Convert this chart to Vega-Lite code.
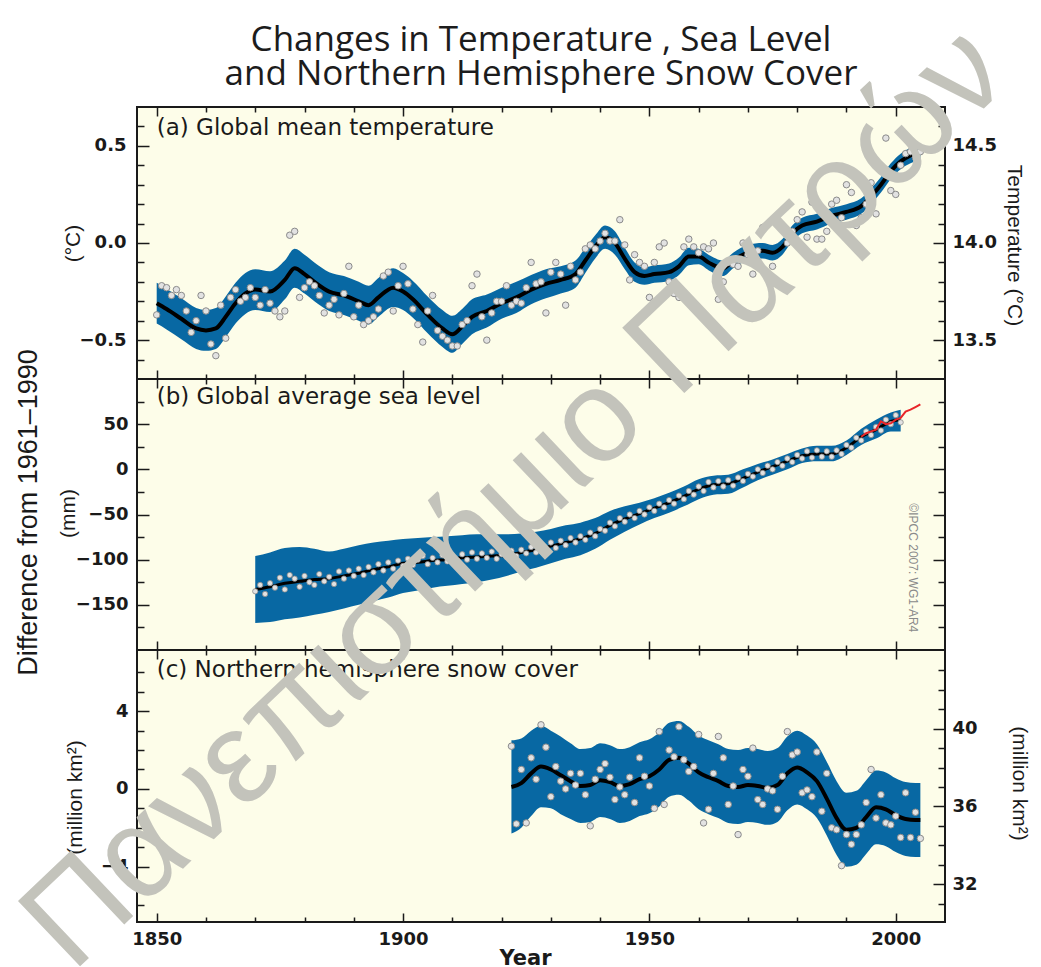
{
  "$schema": "https://vega.github.io/schema/vega-lite/v6.json",
  "width": 808,
  "height": 815,
  "autosize": {"type": "none"},
  "padding": {"left": 137, "top": 107, "right": 96, "bottom": 45},
  "background": "white",
  "title": {
    "text": ["Changes in Temperature , Sea Level", "and Northern Hemisphere Snow Cover"],
    "font": "Open Sans", "fontSize": 35, "fontWeight": 500, "color": "#1c1c1c",
    "anchor": "middle", "lineHeight": 34, "offset": -87, "frame": "group"
  },
  "datasets": {
    "temp_pts": [
      {"year":1850,"v":-0.37},{"year":1851,"v":-0.22},{"year":1852,"v":-0.23},{"year":1853,"v":-0.27},{"year":1854,"v":-0.24},{"year":1855,"v":-0.27},{"year":1856,"v":-0.35},{"year":1857,"v":-0.46},{"year":1858,"v":-0.40},{"year":1859,"v":-0.27},
      {"year":1860,"v":-0.35},{"year":1861,"v":-0.52},{"year":1862,"v":-0.58},{"year":1863,"v":-0.32},{"year":1864,"v":-0.49},{"year":1865,"v":-0.28},{"year":1866,"v":-0.24},{"year":1867,"v":-0.30},{"year":1868,"v":-0.28},{"year":1869,"v":-0.23},
      {"year":1870,"v":-0.28},{"year":1871,"v":-0.32},{"year":1872,"v":-0.24},{"year":1873,"v":-0.31},{"year":1874,"v":-0.35},{"year":1875,"v":-0.38},{"year":1876,"v":-0.35},{"year":1877,"v":0.04},{"year":1878,"v":0.06},{"year":1879,"v":-0.28},
      {"year":1880,"v":-0.23},{"year":1881,"v":-0.20},{"year":1882,"v":-0.22},{"year":1883,"v":-0.27},{"year":1884,"v":-0.36},{"year":1885,"v":-0.32},{"year":1886,"v":-0.29},{"year":1887,"v":-0.37},{"year":1888,"v":-0.26},{"year":1889,"v":-0.12},
      {"year":1890,"v":-0.38},{"year":1891,"v":-0.32},{"year":1892,"v":-0.42},{"year":1893,"v":-0.40},{"year":1894,"v":-0.38},{"year":1895,"v":-0.34},{"year":1896,"v":-0.17},{"year":1897,"v":-0.15},{"year":1898,"v":-0.35},{"year":1899,"v":-0.22},
      {"year":1900,"v":-0.12},{"year":1901,"v":-0.21},{"year":1902,"v":-0.34},{"year":1903,"v":-0.42},{"year":1904,"v":-0.51},{"year":1905,"v":-0.35},{"year":1906,"v":-0.27},{"year":1907,"v":-0.45},{"year":1908,"v":-0.48},{"year":1909,"v":-0.50},
      {"year":1910,"v":-0.53},{"year":1911,"v":-0.53},{"year":1912,"v":-0.42},{"year":1913,"v":-0.40},{"year":1914,"v":-0.22},{"year":1915,"v":-0.16},{"year":1916,"v":-0.38},{"year":1917,"v":-0.50},{"year":1918,"v":-0.36},{"year":1919,"v":-0.30},
      {"year":1920,"v":-0.30},{"year":1921,"v":-0.22},{"year":1922,"v":-0.32},{"year":1923,"v":-0.30},{"year":1924,"v":-0.31},{"year":1925,"v":-0.23},{"year":1926,"v":-0.10},{"year":1927,"v":-0.21},{"year":1928,"v":-0.20},{"year":1929,"v":-0.36},
      {"year":1930,"v":-0.15},{"year":1931,"v":-0.10},{"year":1932,"v":-0.16},{"year":1933,"v":-0.32},{"year":1934,"v":-0.12},{"year":1935,"v":-0.19},{"year":1936,"v":-0.15},{"year":1937,"v":-0.03},{"year":1938,"v":-0.01},{"year":1939,"v":-0.03},
      {"year":1940,"v":0.01},{"year":1941,"v":0.05},{"year":1942,"v":0.01},{"year":1943,"v":0.01},{"year":1944,"v":0.12},{"year":1945,"v":-0.01},{"year":1946,"v":-0.19},{"year":1947,"v":-0.06},{"year":1948,"v":-0.10},{"year":1949,"v":-0.12},
      {"year":1950,"v":-0.28},{"year":1951,"v":-0.10},{"year":1952,"v":-0.02},{"year":1953,"v":0.00},{"year":1954,"v":-0.20},{"year":1955,"v":-0.26},{"year":1956,"v":-0.28},{"year":1957,"v":-0.02},{"year":1958,"v":0.02},{"year":1959,"v":-0.02},
      {"year":1960,"v":-0.05},{"year":1961,"v":-0.02},{"year":1962,"v":-0.03},{"year":1963,"v":0.00},{"year":1964,"v":-0.29},{"year":1965,"v":-0.20},{"year":1966,"v":-0.10},{"year":1967,"v":-0.11},{"year":1968,"v":-0.12},{"year":1969,"v":0.00},
      {"year":1970,"v":-0.06},{"year":1971,"v":-0.16},{"year":1972,"v":-0.04},{"year":1973,"v":0.08},{"year":1974,"v":-0.16},{"year":1975,"v":-0.12},{"year":1976,"v":-0.20},{"year":1977,"v":0.09},{"year":1978,"v":0.00},{"year":1979,"v":0.06},
      {"year":1980,"v":0.12},{"year":1981,"v":0.16},{"year":1982,"v":0.03},{"year":1983,"v":0.21},{"year":1984,"v":0.02},{"year":1985,"v":0.02},{"year":1986,"v":0.06},{"year":1987,"v":0.20},{"year":1988,"v":0.22},{"year":1989,"v":0.13},
      {"year":1990,"v":0.30},{"year":1991,"v":0.26},{"year":1992,"v":0.09},{"year":1993,"v":0.13},{"year":1994,"v":0.20},{"year":1995,"v":0.31},{"year":1996,"v":0.15},{"year":1997,"v":0.38},{"year":1998,"v":0.54},{"year":1999,"v":0.27},
      {"year":2000,"v":0.25},{"year":2001,"v":0.40},{"year":2002,"v":0.46},{"year":2003,"v":0.47},{"year":2004,"v":0.44},{"year":2005,"v":0.47}
    ],
    "temp_smooth": [
      {"year":1850,"m":-0.31,"lo":-0.415,"hi":-0.205},{"year":1852,"m":-0.34,"lo":-0.445,"hi":-0.235},{"year":1855,"m":-0.39,"lo":-0.495,"hi":-0.285},{"year":1858,"m":-0.44,"lo":-0.545,"hi":-0.335},
      {"year":1860,"m":-0.45,"lo":-0.555,"hi":-0.345},{"year":1862,"m":-0.44,"lo":-0.545,"hi":-0.335},{"year":1864,"m":-0.38,"lo":-0.485,"hi":-0.275},{"year":1866,"m":-0.31,"lo":-0.415,"hi":-0.205},
      {"year":1868,"m":-0.26,"lo":-0.365,"hi":-0.155},{"year":1870,"m":-0.24,"lo":-0.345,"hi":-0.135},{"year":1873,"m":-0.25,"lo":-0.355,"hi":-0.145},{"year":1876,"m":-0.19,"lo":-0.29,"hi":-0.09},
      {"year":1878,"m":-0.13,"lo":-0.23,"hi":-0.03},{"year":1880,"m":-0.16,"lo":-0.26,"hi":-0.06},{"year":1882,"m":-0.20,"lo":-0.30,"hi":-0.10},{"year":1885,"m":-0.25,"lo":-0.35,"hi":-0.15},
      {"year":1888,"m":-0.27,"lo":-0.37,"hi":-0.17},{"year":1891,"m":-0.30,"lo":-0.40,"hi":-0.20},{"year":1893,"m":-0.32,"lo":-0.42,"hi":-0.22},{"year":1895,"m":-0.28,"lo":-0.38,"hi":-0.18},
      {"year":1898,"m":-0.23,"lo":-0.33,"hi":-0.13},{"year":1900,"m":-0.25,"lo":-0.345,"hi":-0.155},{"year":1902,"m":-0.29,"lo":-0.385,"hi":-0.195},{"year":1905,"m":-0.37,"lo":-0.465,"hi":-0.275},
      {"year":1908,"m":-0.44,"lo":-0.535,"hi":-0.345},{"year":1910,"m":-0.47,"lo":-0.565,"hi":-0.375},{"year":1912,"m":-0.43,"lo":-0.52,"hi":-0.34},{"year":1914,"m":-0.38,"lo":-0.47,"hi":-0.29},
      {"year":1917,"m":-0.35,"lo":-0.435,"hi":-0.265},{"year":1920,"m":-0.31,"lo":-0.39,"hi":-0.23},{"year":1923,"m":-0.28,"lo":-0.36,"hi":-0.20},{"year":1926,"m":-0.24,"lo":-0.315,"hi":-0.165},
      {"year":1929,"m":-0.21,"lo":-0.285,"hi":-0.135},{"year":1932,"m":-0.19,"lo":-0.26,"hi":-0.12},{"year":1935,"m":-0.16,"lo":-0.23,"hi":-0.09},{"year":1937,"m":-0.09,"lo":-0.155,"hi":-0.025},
      {"year":1939,"m":-0.02,"lo":-0.08,"hi":0.04},{"year":1941,"m":0.03,"lo":-0.03,"hi":0.09},{"year":1943,"m":0.00,"lo":-0.06,"hi":0.06},{"year":1945,"m":-0.08,"lo":-0.135,"hi":-0.025},
      {"year":1947,"m":-0.15,"lo":-0.20,"hi":-0.10},{"year":1949,"m":-0.17,"lo":-0.215,"hi":-0.125},{"year":1951,"m":-0.16,"lo":-0.205,"hi":-0.115},{"year":1954,"m":-0.15,"lo":-0.195,"hi":-0.105},
      {"year":1956,"m":-0.12,"lo":-0.165,"hi":-0.075},{"year":1958,"m":-0.07,"lo":-0.115,"hi":-0.025},{"year":1960,"m":-0.07,"lo":-0.11,"hi":-0.03},{"year":1962,"m":-0.10,"lo":-0.14,"hi":-0.06},
      {"year":1965,"m":-0.13,"lo":-0.17,"hi":-0.09},{"year":1967,"m":-0.09,"lo":-0.13,"hi":-0.05},{"year":1970,"m":-0.05,"lo":-0.09,"hi":-0.01},{"year":1973,"m":-0.04,"lo":-0.08,"hi":0.00},
      {"year":1975,"m":-0.05,"lo":-0.09,"hi":-0.01},{"year":1977,"m":-0.02,"lo":-0.06,"hi":0.02},{"year":1979,"m":0.05,"lo":0.01,"hi":0.09},{"year":1981,"m":0.09,"lo":0.05,"hi":0.13},
      {"year":1984,"m":0.11,"lo":0.07,"hi":0.15},{"year":1987,"m":0.14,"lo":0.10,"hi":0.18},{"year":1990,"m":0.16,"lo":0.12,"hi":0.20},{"year":1993,"m":0.19,"lo":0.15,"hi":0.23},
      {"year":1995,"m":0.24,"lo":0.20,"hi":0.28},{"year":1997,"m":0.30,"lo":0.26,"hi":0.34},{"year":1999,"m":0.37,"lo":0.33,"hi":0.41},{"year":2001,"m":0.42,"lo":0.38,"hi":0.46},
      {"year":2003,"m":0.45,"lo":0.41,"hi":0.49},{"year":2005,"m":0.47,"lo":0.43,"hi":0.51}
    ],
    "sea_pts": [
      {"year":1870,"v":-135},{"year":1871,"v":-128},{"year":1872,"v":-138},{"year":1873,"v":-126},{"year":1874,"v":-131},{"year":1875,"v":-120},{"year":1876,"v":-133},{"year":1877,"v":-117},{"year":1878,"v":-121},{"year":1879,"v":-130},
      {"year":1880,"v":-118},{"year":1881,"v":-125},{"year":1882,"v":-128},{"year":1883,"v":-116},{"year":1884,"v":-124},{"year":1885,"v":-119},{"year":1886,"v":-127},{"year":1887,"v":-113},{"year":1888,"v":-121},{"year":1889,"v":-112},
      {"year":1890,"v":-118},{"year":1891,"v":-110},{"year":1892,"v":-117},{"year":1893,"v":-108},{"year":1894,"v":-114},{"year":1895,"v":-105},{"year":1896,"v":-112},{"year":1897,"v":-103},{"year":1898,"v":-110},{"year":1899,"v":-101},
      {"year":1900,"v":-107},{"year":1901,"v":-99},{"year":1902,"v":-106},{"year":1903,"v":-100},{"year":1904,"v":-96},{"year":1905,"v":-105},{"year":1906,"v":-98},{"year":1907,"v":-103},{"year":1908,"v":-95},{"year":1909,"v":-102},
      {"year":1910,"v":-96},{"year":1911,"v":-101},{"year":1912,"v":-94},{"year":1913,"v":-100},{"year":1914,"v":-92},{"year":1915,"v":-99},{"year":1916,"v":-93},{"year":1917,"v":-98},{"year":1918,"v":-91},{"year":1919,"v":-99},
      {"year":1920,"v":-94},{"year":1921,"v":-97},{"year":1922,"v":-90},{"year":1923,"v":-96},{"year":1924,"v":-89},{"year":1925,"v":-93},{"year":1926,"v":-86},{"year":1927,"v":-92},{"year":1928,"v":-85},{"year":1929,"v":-89},
      {"year":1930,"v":-81},{"year":1931,"v":-87},{"year":1932,"v":-79},{"year":1933,"v":-84},{"year":1934,"v":-76},{"year":1935,"v":-81},{"year":1936,"v":-74},{"year":1937,"v":-78},{"year":1938,"v":-70},{"year":1939,"v":-74},
      {"year":1940,"v":-66},{"year":1941,"v":-68},{"year":1942,"v":-59},{"year":1943,"v":-63},{"year":1944,"v":-54},{"year":1945,"v":-58},{"year":1946,"v":-50},{"year":1947,"v":-54},{"year":1948,"v":-46},{"year":1949,"v":-50},
      {"year":1950,"v":-42},{"year":1951,"v":-46},{"year":1952,"v":-38},{"year":1953,"v":-42},{"year":1954,"v":-34},{"year":1955,"v":-38},{"year":1956,"v":-29},{"year":1957,"v":-33},{"year":1958,"v":-24},{"year":1959,"v":-28},
      {"year":1960,"v":-19},{"year":1961,"v":-24},{"year":1962,"v":-14},{"year":1963,"v":-20},{"year":1964,"v":-13},{"year":1965,"v":-19},{"year":1966,"v":-12},{"year":1967,"v":-18},{"year":1968,"v":-9},{"year":1969,"v":-13},
      {"year":1970,"v":-5},{"year":1971,"v":-8},{"year":1972,"v":0},{"year":1973,"v":-4},{"year":1974,"v":4},{"year":1975,"v":0},{"year":1976,"v":8},{"year":1977,"v":4},{"year":1978,"v":12},{"year":1979,"v":8},
      {"year":1980,"v":16},{"year":1981,"v":12},{"year":1982,"v":20},{"year":1983,"v":13},{"year":1984,"v":21},{"year":1985,"v":14},{"year":1986,"v":20},{"year":1987,"v":14},{"year":1988,"v":21},{"year":1989,"v":17},
      {"year":1990,"v":27},{"year":1991,"v":24},{"year":1992,"v":35},{"year":1993,"v":32},{"year":1994,"v":42},{"year":1995,"v":38},{"year":1996,"v":47},{"year":1997,"v":43},{"year":1998,"v":55},{"year":1999,"v":50},
      {"year":2000,"v":60},{"year":2001,"v":52}
    ],
    "sea_smooth": [
      {"year":1870,"m":-133,"lo":-170,"hi":-96},{"year":1873,"m":-130,"lo":-169,"hi":-92},{"year":1876,"m":-126,"lo":-166,"hi":-87},{"year":1879,"m":-124,"lo":-164,"hi":-86},
      {"year":1882,"m":-122,"lo":-161,"hi":-88},{"year":1885,"m":-121,"lo":-158,"hi":-91},{"year":1888,"m":-118,"lo":-154,"hi":-88},{"year":1891,"m":-115,"lo":-150,"hi":-84},
      {"year":1894,"m":-111,"lo":-146,"hi":-81},{"year":1897,"m":-108,"lo":-142,"hi":-79},{"year":1900,"m":-104,"lo":-137,"hi":-77},{"year":1903,"m":-103,"lo":-134,"hi":-76},
      {"year":1906,"m":-101,"lo":-131,"hi":-75},{"year":1909,"m":-100,"lo":-129,"hi":-74},{"year":1912,"m":-98,"lo":-127,"hi":-73},{"year":1915,"m":-97,"lo":-125,"hi":-72},
      {"year":1918,"m":-96,"lo":-122,"hi":-72},{"year":1921,"m":-95,"lo":-118,"hi":-72},{"year":1924,"m":-92,"lo":-113,"hi":-71},{"year":1927,"m":-89,"lo":-109,"hi":-69},
      {"year":1930,"m":-85,"lo":-104,"hi":-66},{"year":1933,"m":-81,"lo":-99,"hi":-62},{"year":1936,"m":-77,"lo":-95,"hi":-59},{"year":1939,"m":-71,"lo":-88,"hi":-54},
      {"year":1942,"m":-62,"lo":-78,"hi":-46},{"year":1945,"m":-55,"lo":-69,"hi":-41},{"year":1948,"m":-49,"lo":-61,"hi":-37},{"year":1951,"m":-43,"lo":-54,"hi":-32},
      {"year":1954,"m":-37,"lo":-48,"hi":-26},{"year":1957,"m":-30,"lo":-41,"hi":-19},{"year":1960,"m":-22,"lo":-33,"hi":-11},{"year":1963,"m":-17,"lo":-28,"hi":-7},
      {"year":1966,"m":-16,"lo":-27,"hi":-6},{"year":1969,"m":-10,"lo":-20,"hi":0},{"year":1972,"m":-3,"lo":-12,"hi":6},{"year":1975,"m":3,"lo":-6,"hi":11},
      {"year":1978,"m":9,"lo":0,"hi":17},{"year":1981,"m":15,"lo":7,"hi":23},{"year":1984,"m":17,"lo":9,"hi":26},{"year":1987,"m":17,"lo":9,"hi":26},
      {"year":1990,"m":24,"lo":16,"hi":32},{"year":1993,"m":36,"lo":27,"hi":45},{"year":1996,"m":44,"lo":34,"hi":55},{"year":1999,"m":53,"lo":42,"hi":63},
      {"year":2001,"m":55,"lo":42,"hi":66}
    ],
    "sea_sat": [
      {"year":1993,"v":36},{"year":1994,"v":40},{"year":1995,"v":42},{"year":1996,"v":44},{"year":1997,"v":53},{"year":1998,"v":50},{"year":1999,"v":51},
      {"year":2000,"v":55},{"year":2001,"v":57},{"year":2002,"v":64},{"year":2003,"v":66},{"year":2004,"v":69},{"year":2005,"v":72}
    ],
    "snow_pts": [
      {"year":1922,"v":2.2},{"year":1923,"v":-1.8},{"year":1924,"v":1.0},{"year":1925,"v":-1.75},{"year":1926,"v":1.6},{"year":1927,"v":0.5},{"year":1928,"v":3.3},{"year":1929,"v":2.15},
      {"year":1930,"v":-0.4},{"year":1931,"v":1.15},{"year":1932,"v":0.4},{"year":1933,"v":0.0},{"year":1934,"v":0.8},{"year":1935,"v":0.2},{"year":1936,"v":0.8},{"year":1937,"v":-0.3},{"year":1938,"v":-1.9},{"year":1939,"v":0.5},
      {"year":1940,"v":1.0},{"year":1941,"v":1.3},{"year":1942,"v":0.6},{"year":1943,"v":-0.55},{"year":1944,"v":0.1},{"year":1945,"v":-0.3},{"year":1946,"v":0.6},{"year":1947,"v":-0.7},{"year":1948,"v":1.6},{"year":1949,"v":0.65},
      {"year":1950,"v":0.15},{"year":1951,"v":-1.0},{"year":1952,"v":2.95},{"year":1953,"v":-0.8},{"year":1954,"v":2.0},{"year":1955,"v":1.65},{"year":1956,"v":3.2},{"year":1957,"v":1.5},{"year":1958,"v":0.9},{"year":1959,"v":1.15},
      {"year":1960,"v":2.8},{"year":1961,"v":-1.75},{"year":1962,"v":-1.05},{"year":1963,"v":0.8},{"year":1964,"v":2.7},{"year":1965,"v":1.6},{"year":1966,"v":-0.8},{"year":1967,"v":0.15},{"year":1968,"v":-2.35},{"year":1969,"v":1.0},
      {"year":1970,"v":0.65},{"year":1971,"v":2.1},{"year":1972,"v":-0.55},{"year":1973,"v":-0.8},{"year":1974,"v":0.0},{"year":1975,"v":-0.1},{"year":1976,"v":-1.05},{"year":1977,"v":0.65},{"year":1978,"v":2.95},{"year":1979,"v":1.75},
      {"year":1980,"v":1.9},{"year":1981,"v":-0.2},{"year":1982,"v":-0.05},{"year":1983,"v":-0.4},{"year":1984,"v":1.9},{"year":1985,"v":-1.15},{"year":1986,"v":0.8},{"year":1987,"v":-2.0},{"year":1988,"v":-2.1},{"year":1989,"v":-3.95},
      {"year":1990,"v":-2.35},{"year":1991,"v":-2.85},{"year":1992,"v":-2.35},{"year":1993,"v":-1.85},{"year":1994,"v":-0.7},{"year":1995,"v":1.0},{"year":1996,"v":-1.5},{"year":1997,"v":-0.3},{"year":1998,"v":-1.75},{"year":1999,"v":-1.85},
      {"year":2000,"v":-1.4},{"year":2001,"v":-2.5},{"year":2002,"v":-0.2},{"year":2003,"v":-2.5},{"year":2004,"v":-1.2},{"year":2005,"v":-2.55}
    ],
    "snow_smooth": [
      {"year":1922,"m":0.1,"lo":-2.3,"hi":2.5},{"year":1924,"m":0.3,"lo":-2.0,"hi":2.6},{"year":1926,"m":0.8,"lo":-1.4,"hi":3.0},{"year":1928,"m":1.15,"lo":-0.95,"hi":3.25},
      {"year":1930,"m":1.0,"lo":-1.0,"hi":3.0},{"year":1932,"m":0.7,"lo":-1.3,"hi":2.7},{"year":1934,"m":0.4,"lo":-1.55,"hi":2.35},{"year":1936,"m":0.15,"lo":-1.75,"hi":2.05},
      {"year":1938,"m":0.2,"lo":-1.7,"hi":2.1},{"year":1940,"m":0.45,"lo":-1.45,"hi":2.35},{"year":1942,"m":0.35,"lo":-1.55,"hi":2.25},{"year":1944,"m":0.15,"lo":-1.75,"hi":2.05},
      {"year":1946,"m":0.25,"lo":-1.65,"hi":2.15},{"year":1948,"m":0.5,"lo":-1.4,"hi":2.4},{"year":1950,"m":0.65,"lo":-1.25,"hi":2.55},{"year":1952,"m":1.0,"lo":-0.9,"hi":2.9},
      {"year":1954,"m":1.5,"lo":-0.4,"hi":3.4},{"year":1956,"m":1.6,"lo":-0.3,"hi":3.5},{"year":1958,"m":1.3,"lo":-0.6,"hi":3.2},{"year":1960,"m":0.85,"lo":-1.05,"hi":2.75},
      {"year":1962,"m":0.6,"lo":-1.3,"hi":2.5},{"year":1964,"m":0.4,"lo":-1.5,"hi":2.3},{"year":1966,"m":0.15,"lo":-1.75,"hi":2.05},{"year":1968,"m":0.1,"lo":-1.8,"hi":2.0},
      {"year":1970,"m":0.2,"lo":-1.7,"hi":2.1},{"year":1972,"m":0.15,"lo":-1.75,"hi":2.05},{"year":1974,"m":0.05,"lo":-1.85,"hi":1.95},{"year":1976,"m":0.2,"lo":-1.7,"hi":2.1},
      {"year":1978,"m":0.8,"lo":-1.1,"hi":2.7},{"year":1980,"m":1.1,"lo":-0.8,"hi":3.0},{"year":1982,"m":0.85,"lo":-1.05,"hi":2.75},{"year":1984,"m":0.4,"lo":-1.5,"hi":2.3},
      {"year":1986,"m":-0.5,"lo":-2.4,"hi":1.4},{"year":1988,"m":-1.5,"lo":-3.4,"hi":0.4},{"year":1990,"m":-2.1,"lo":-4.0,"hi":-0.2},{"year":1992,"m":-2.0,"lo":-3.9,"hi":-0.1},
      {"year":1994,"m":-1.45,"lo":-3.35,"hi":0.45},{"year":1996,"m":-0.95,"lo":-2.85,"hi":0.95},{"year":1998,"m":-1.05,"lo":-2.95,"hi":0.85},{"year":2000,"m":-1.35,"lo":-3.25,"hi":0.55},
      {"year":2002,"m":-1.55,"lo":-3.45,"hi":0.35},{"year":2004,"m":-1.6,"lo":-3.5,"hi":0.3},{"year":2005,"m":-1.6,"lo":-3.5,"hi":0.3}
    ],
    "one": [{}]
  },
  "layer": [
    {
      "data": {"name": "temp_smooth"},
      "mark": {"type": "area", "color": "#0868a3", "interpolate": "monotone"},
      "encoding": {
        "x": {"field": "year", "type": "quantitative", "scale": {"domain": [1846, 2010], "nice": false, "zero": false}, "axis": null},
        "y": {"field": "lo", "type": "quantitative", "scale": {"domain": [-3.495, 0.7], "nice": false, "zero": false}, "axis": null},
        "y2": {"field": "hi"}
      }
    },
    {
      "data": {"name": "temp_smooth"},
      "mark": {"type": "line", "color": "#000000", "strokeWidth": 4, "interpolate": "monotone"},
      "encoding": {
        "x": {"field": "year", "type": "quantitative", "scale": {"domain": [1846, 2010], "nice": false, "zero": false}, "axis": null},
        "y": {"field": "m", "type": "quantitative", "scale": {"domain": [-3.495, 0.7], "nice": false, "zero": false}, "axis": null}
      }
    },
    {
      "data": {"name": "temp_pts"},
      "mark": {"type": "point", "filled": true, "fill": "#e2e2e2", "stroke": "#8a8a8a", "strokeWidth": 1, "size": 42, "opacity": 1},
      "encoding": {
        "x": {"field": "year", "type": "quantitative", "scale": {"domain": [1846, 2010], "nice": false, "zero": false}, "axis": null},
        "y": {"field": "v", "type": "quantitative", "scale": {"domain": [-3.495, 0.7], "nice": false, "zero": false}, "axis": null}
      }
    },
    {
      "data": {"name": "one"},
      "mark": {"type": "text", "text": "(a) Global mean temperature", "font": "DejaVu Sans", "fontSize": 23, "color": "#1a1a1a", "align": "left", "baseline": "alphabetic"},
      "encoding": {
        "x": {"datum": 1850, "type": "quantitative", "scale": {"domain": [1846, 2010], "nice": false, "zero": false}, "axis": null},
        "y": {"datum": 0.556, "type": "quantitative", "scale": {"domain": [-3.495, 0.7], "nice": false, "zero": false}, "axis": null}
      }
    },
    {
      "data": {"name": "one"},
      "mark": {"type": "rule", "color": "#1a1a1a", "strokeWidth": 2},
      "encoding": {
        "y": {"datum": -0.7, "type": "quantitative", "scale": {"domain": [-3.495, 0.7], "nice": false, "zero": false}, "axis": null}
      }
    },
    {
      "data": {"name": "sea_smooth"},
      "mark": {"type": "area", "color": "#0868a3", "interpolate": "monotone"},
      "encoding": {
        "x": {"field": "year", "type": "quantitative", "scale": {"domain": [1846, 2010], "nice": false, "zero": false}, "axis": null},
        "y": {"field": "lo", "type": "quantitative", "scale": {"domain": [-501.1, 401.1], "nice": false, "zero": false}, "axis": null},
        "y2": {"field": "hi"}
      }
    },
    {
      "data": {"name": "sea_smooth"},
      "mark": {"type": "line", "color": "#000000", "strokeWidth": 3, "interpolate": "monotone"},
      "encoding": {
        "x": {"field": "year", "type": "quantitative", "scale": {"domain": [1846, 2010], "nice": false, "zero": false}, "axis": null},
        "y": {"field": "m", "type": "quantitative", "scale": {"domain": [-501.1, 401.1], "nice": false, "zero": false}, "axis": null}
      }
    },
    {
      "data": {"name": "sea_pts"},
      "mark": {"type": "point", "filled": true, "fill": "#e2e2e2", "stroke": "#8a8a8a", "strokeWidth": 0.8, "size": 28, "opacity": 1},
      "encoding": {
        "x": {"field": "year", "type": "quantitative", "scale": {"domain": [1846, 2010], "nice": false, "zero": false}, "axis": null},
        "y": {"field": "v", "type": "quantitative", "scale": {"domain": [-501.1, 401.1], "nice": false, "zero": false}, "axis": null}
      }
    },
    {
      "data": {"name": "sea_sat"},
      "mark": {"type": "line", "color": "#e8262a", "strokeWidth": 2},
      "encoding": {
        "x": {"field": "year", "type": "quantitative", "scale": {"domain": [1846, 2010], "nice": false, "zero": false}, "axis": null},
        "y": {"field": "v", "type": "quantitative", "scale": {"domain": [-501.1, 401.1], "nice": false, "zero": false}, "axis": null}
      }
    },
    {
      "data": {"name": "one"},
      "mark": {"type": "text", "text": "(b) Global average sea level", "font": "DejaVu Sans", "fontSize": 23, "color": "#1a1a1a", "align": "left", "baseline": "alphabetic"},
      "encoding": {
        "x": {"datum": 1850, "type": "quantitative", "scale": {"domain": [1846, 2010], "nice": false, "zero": false}, "axis": null},
        "y": {"datum": 72.3, "type": "quantitative", "scale": {"domain": [-501.1, 401.1], "nice": false, "zero": false}, "axis": null}
      }
    },
    {
      "data": {"name": "one"},
      "mark": {"type": "text", "text": "©IPCC 2007: WG1-AR4", "font": "Liberation Sans", "fontSize": 12, "color": "#8a8a8a", "align": "center", "baseline": "middle", "angle": 90},
      "encoding": {
        "x": {"datum": 2003.6, "type": "quantitative", "scale": {"domain": [1846, 2010], "nice": false, "zero": false}, "axis": null},
        "y": {"datum": -109, "type": "quantitative", "scale": {"domain": [-501.1, 401.1], "nice": false, "zero": false}, "axis": null}
      }
    },
    {
      "data": {"name": "one"},
      "mark": {"type": "rule", "color": "#1a1a1a", "strokeWidth": 2},
      "encoding": {
        "y": {"datum": -200, "type": "quantitative", "scale": {"domain": [-501.1, 401.1], "nice": false, "zero": false}, "axis": null}
      }
    },
    {
      "data": {"name": "snow_smooth"},
      "mark": {"type": "area", "color": "#0868a3", "interpolate": "monotone"},
      "encoding": {
        "x": {"field": "year", "type": "quantitative", "scale": {"domain": [1846, 2010], "nice": false, "zero": false}, "axis": null},
        "y": {"field": "lo", "type": "quantitative", "scale": {"domain": [-6.85, 35.098], "nice": false, "zero": false}, "axis": null},
        "y2": {"field": "hi"}
      }
    },
    {
      "data": {"name": "snow_smooth"},
      "mark": {"type": "line", "color": "#000000", "strokeWidth": 4, "interpolate": "monotone"},
      "encoding": {
        "x": {"field": "year", "type": "quantitative", "scale": {"domain": [1846, 2010], "nice": false, "zero": false}, "axis": null},
        "y": {"field": "m", "type": "quantitative", "scale": {"domain": [-6.85, 35.098], "nice": false, "zero": false}, "axis": null}
      }
    },
    {
      "data": {"name": "snow_pts"},
      "mark": {"type": "point", "filled": true, "fill": "#e2e2e2", "stroke": "#8a8a8a", "strokeWidth": 1, "size": 42, "opacity": 1},
      "encoding": {
        "x": {"field": "year", "type": "quantitative", "scale": {"domain": [1846, 2010], "nice": false, "zero": false}, "axis": null},
        "y": {"field": "v", "type": "quantitative", "scale": {"domain": [-6.85, 35.098], "nice": false, "zero": false}, "axis": null}
      }
    },
    {
      "data": {"name": "one"},
      "mark": {"type": "text", "text": "(c) Northern hemisphere snow cover", "font": "DejaVu Sans", "fontSize": 23, "color": "#1a1a1a", "align": "left", "baseline": "alphabetic"},
      "encoding": {
        "x": {"datum": 1850, "type": "quantitative", "scale": {"domain": [1846, 2010], "nice": false, "zero": false}, "axis": null},
        "y": {"datum": 5.76, "type": "quantitative", "scale": {"domain": [-6.85, 35.098], "nice": false, "zero": false}, "axis": null}
      }
    },
    {
      "data": {"name": "one"},
      "mark": {"type": "point", "opacity": 0},
      "encoding": {
        "x": {"datum": 1900, "type": "quantitative", "scale": {"domain": [1846, 2010], "nice": false, "zero": false},
              "axis": {"orient": "bottom", "values": [1850, 1900, 1950, 2000], "format": "d", "offset": -9, "tickSize": 9, "labelPadding": 8, "labelFlush": false,
                       "title": "Year", "titleX": 388, "titleY": 34, "titleAlign": "center", "titleBaseline": "top", "titleAngle": 0,
                       "titleFont": "DejaVu Sans", "titleFontSize": 21, "titleFontWeight": "bold"}},
        "y": {"datum": 0, "type": "quantitative", "scale": {"domain": [-3.495, 0.7], "nice": false, "zero": false},
              "axis": {"orient": "left", "values": [-0.5, 0, 0.5], "format": ".1f", "offset": -12, "tickSize": 12, "labelPadding": 11,
                       "title": "(°C)", "titleX": -66, "titleY": 136, "titleAngle": -90, "titleAlign": "center", "titleBaseline": "bottom"}}
      }
    },
    {
      "data": {"name": "one"},
      "mark": {"type": "point", "opacity": 0},
      "encoding": {
        "x": {"datum": 1900, "type": "quantitative", "scale": {"domain": [1846, 2010], "nice": false, "zero": false},
              "axis": {"orient": "bottom", "values": [1860,1870,1880,1890,1910,1920,1930,1940,1960,1970,1980,1990], "labels": false, "offset": -5, "tickSize": 5, "title": null}},
        "y": {"datum": 0, "type": "quantitative", "scale": {"domain": [-3.495, 0.7], "nice": false, "zero": false},
              "axis": {"orient": "left", "values": [-0.6,-0.4,-0.3,-0.2,-0.1,0.1,0.2,0.3,0.4,0.6], "labels": false, "offset": -7, "tickSize": 7, "title": null}}
      }
    },
    {
      "data": {"name": "one"},
      "mark": {"type": "point", "opacity": 0},
      "encoding": {
        "x": {"datum": 1900, "type": "quantitative", "scale": {"domain": [1846, 2010], "nice": false, "zero": false},
              "axis": {"orient": "top", "values": [1850, 1900, 1950, 2000], "labels": false, "offset": -9, "tickSize": 9, "title": null}},
        "y": {"datum": 14, "type": "quantitative", "scale": {"domain": [10.505, 14.7], "nice": false, "zero": false},
              "axis": {"orient": "right", "values": [13.5, 14, 14.5], "format": ".1f", "offset": -12, "tickSize": 12, "labelPadding": 7,
                       "title": "Temperature (°C)", "titleX": 70, "titleY": 138, "titleAngle": 90, "titleAlign": "center", "titleBaseline": "bottom"}}
      }
    },
    {
      "data": {"name": "one"},
      "mark": {"type": "point", "opacity": 0},
      "encoding": {
        "x": {"datum": 1900, "type": "quantitative", "scale": {"domain": [1846, 2010], "nice": false, "zero": false},
              "axis": {"orient": "top", "values": [1860,1870,1880,1890,1910,1920,1930,1940,1960,1970,1980,1990], "labels": false, "offset": -5, "tickSize": 5, "title": null}},
        "y": {"datum": 14, "type": "quantitative", "scale": {"domain": [10.505, 14.7], "nice": false, "zero": false},
              "axis": {"orient": "right", "values": [13.4,13.6,13.7,13.8,13.9,14.1,14.2,14.3,14.4,14.6], "labels": false, "offset": -7, "tickSize": 7, "title": null}}
      }
    },
    {
      "data": {"name": "one"},
      "mark": {"type": "point", "opacity": 0},
      "encoding": {
        "x": {"datum": 1900, "type": "quantitative", "scale": {"domain": [1846, 2010], "nice": false, "zero": false},
              "axis": {"orient": "top", "values": [1850, 1900, 1950, 2000], "labels": false, "offset": -272, "tickSize": 9, "title": null}},
        "y": {"datum": 0, "type": "quantitative", "scale": {"domain": [-501.1, 401.1], "nice": false, "zero": false},
              "axis": {"orient": "left", "values": [-150, -100, -50, 0, 50], "format": "d", "offset": -12, "tickSize": 12, "labelPadding": 9,
                       "title": "(mm)", "titleX": -71, "titleY": 406, "titleAngle": -90, "titleAlign": "center", "titleBaseline": "bottom"}}
      }
    },
    {
      "data": {"name": "one"},
      "mark": {"type": "point", "opacity": 0},
      "encoding": {
        "x": {"datum": 1900, "type": "quantitative", "scale": {"domain": [1846, 2010], "nice": false, "zero": false},
              "axis": {"orient": "top", "values": [1860,1870,1880,1890,1910,1920,1930,1940,1960,1970,1980,1990], "labels": false, "offset": -272, "tickSize": 5, "title": null}},
        "y": {"datum": 0, "type": "quantitative", "scale": {"domain": [-501.1, 401.1], "nice": false, "zero": false},
              "axis": {"orient": "left", "values": [-175, -125, -75, -25, 25, 75], "labels": false, "offset": -7, "tickSize": 7, "title": null}}
      }
    },
    {
      "data": {"name": "one"},
      "mark": {"type": "point", "opacity": 0},
      "encoding": {
        "x": {"datum": 1900, "type": "quantitative", "scale": {"domain": [1846, 2010], "nice": false, "zero": false},
              "axis": {"orient": "bottom", "values": [1850, 1900, 1950, 2000], "labels": false, "offset": -543, "tickSize": 9, "title": null}},
        "y": {"datum": 0, "type": "quantitative", "scale": {"domain": [-501.1, 401.1], "nice": false, "zero": false},
              "axis": {"orient": "right", "values": [-150, -100, -50, 0, 50], "labels": false, "offset": -12, "tickSize": 12, "title": null}}
      }
    },
    {
      "data": {"name": "one"},
      "mark": {"type": "point", "opacity": 0},
      "encoding": {
        "x": {"datum": 1900, "type": "quantitative", "scale": {"domain": [1846, 2010], "nice": false, "zero": false},
              "axis": {"orient": "bottom", "values": [1860,1870,1880,1890,1910,1920,1930,1940,1960,1970,1980,1990], "labels": false, "offset": -543, "tickSize": 5, "title": null}},
        "y": {"datum": 0, "type": "quantitative", "scale": {"domain": [-501.1, 401.1], "nice": false, "zero": false},
              "axis": {"orient": "right", "values": [-175, -125, -75, -25, 25, 75], "labels": false, "offset": -7, "tickSize": 7, "title": null}}
      }
    },
    {
      "data": {"name": "one"},
      "mark": {"type": "point", "opacity": 0},
      "encoding": {
        "x": {"datum": 1900, "type": "quantitative", "scale": {"domain": [1846, 2010], "nice": false, "zero": false},
              "axis": {"orient": "top", "values": [1850, 1900, 1950, 2000], "labels": false, "offset": -543, "tickSize": 9, "title": null}},
        "y": {"datum": 0, "type": "quantitative", "scale": {"domain": [-501.1, 401.1], "nice": false, "zero": false},
              "axis": {"orient": "left", "ticks": false, "labels": false, "values": [0],
                       "title": "Difference from 1961–1990", "titleFontSize": 27, "titleX": -95, "titleY": 405, "titleAngle": -90, "titleAlign": "center", "titleBaseline": "bottom"}}
      }
    },
    {
      "data": {"name": "one"},
      "mark": {"type": "point", "opacity": 0},
      "encoding": {
        "x": {"datum": 1900, "type": "quantitative", "scale": {"domain": [1846, 2010], "nice": false, "zero": false},
              "axis": {"orient": "top", "values": [1860,1870,1880,1890,1910,1920,1930,1940,1960,1970,1980,1990], "labels": false, "offset": -543, "tickSize": 5, "title": null}},
        "y": {"datum": 0, "type": "quantitative", "scale": {"domain": [-6.85, 35.098], "nice": false, "zero": false},
              "axis": {"orient": "left", "values": [-4, 0, 4], "format": "d", "offset": -12, "tickSize": 12, "labelPadding": 9,
                       "title": "(million km²)", "titleX": -64, "titleY": 690, "titleAngle": -90, "titleAlign": "center", "titleBaseline": "bottom"}}
      }
    },
    {
      "data": {"name": "one"},
      "mark": {"type": "point", "opacity": 0},
      "encoding": {
        "x": {"datum": 1900, "type": "quantitative", "scale": {"domain": [1846, 2010], "nice": false, "zero": false},
              "axis": {"orient": "bottom", "values": [1850, 1900, 1950, 2000], "labels": false, "offset": -272, "tickSize": 9, "title": null}},
        "y": {"datum": 0, "type": "quantitative", "scale": {"domain": [-6.85, 35.098], "nice": false, "zero": false},
              "axis": {"orient": "left", "values": [-6,-5,-3,-2,-1,1,2,3,5,6], "labels": false, "offset": -7, "tickSize": 7, "title": null}}
      }
    },
    {
      "data": {"name": "one"},
      "mark": {"type": "point", "opacity": 0},
      "encoding": {
        "x": {"datum": 1900, "type": "quantitative", "scale": {"domain": [1846, 2010], "nice": false, "zero": false},
              "axis": {"orient": "bottom", "values": [1860,1870,1880,1890,1910,1920,1930,1940,1960,1970,1980,1990], "labels": false, "offset": -272, "tickSize": 5, "title": null}},
        "y": {"datum": 36, "type": "quantitative", "scale": {"domain": [30.05, 71.998], "nice": false, "zero": false},
              "axis": {"orient": "right", "values": [32, 36, 40], "format": "d", "offset": -12, "tickSize": 12, "labelPadding": 7,
                       "title": "(million km²)", "titleX": 75, "titleY": 676, "titleAngle": 90, "titleAlign": "center", "titleBaseline": "bottom"}}
      }
    },
    {
      "data": {"name": "one"},
      "mark": {"type": "point", "opacity": 0},
      "encoding": {
        "x": {"datum": 1900, "type": "quantitative", "scale": {"domain": [1846, 2010], "nice": false, "zero": false}, "axis": null},
        "y": {"datum": 36, "type": "quantitative", "scale": {"domain": [30.05, 71.998], "nice": false, "zero": false},
              "axis": {"orient": "right", "values": [31,33,34,35,37,38,39,41,42,43], "labels": false, "offset": -7, "tickSize": 7, "title": null}}
      }
    },
    {
      "data": {"name": "one"},
      "mark": {"type": "text", "text": "Πανεπιστήμιο Πατρών", "font": "Liberation Sans", "fontSize": 131, "angle": -43.5, "align": "center", "baseline": "middle", "color": "#c3c3bb"},
      "encoding": {
        "x": {"datum": 1922.9, "type": "quantitative", "scale": {"domain": [1846, 2010], "nice": false, "zero": false}, "axis": null},
        "y": {"datum": -32.8, "type": "quantitative", "scale": {"domain": [-501.1, 401.1], "nice": false, "zero": false}, "axis": null}
      }
    }
  ],
  "resolve": {
    "scale": {"y": "independent"},
    "axis": {"x": "independent", "y": "independent"}
  },
  "config": {
    "view": {"fill": "#fdfde9", "stroke": "#1a1a1a", "strokeWidth": 2},
    "axis": {
      "domain": false, "grid": false, "zindex": 0,
      "tickColor": "#1a1a1a", "tickWidth": 1.5,
      "labelFont": "DejaVu Sans", "labelFontSize": 18, "labelFontWeight": "bold", "labelColor": "#1a1a1a",
      "titleFont": "Liberation Sans", "titleFontSize": 21, "titleFontWeight": "normal", "titleColor": "#1a1a1a"
    }
  }
}
